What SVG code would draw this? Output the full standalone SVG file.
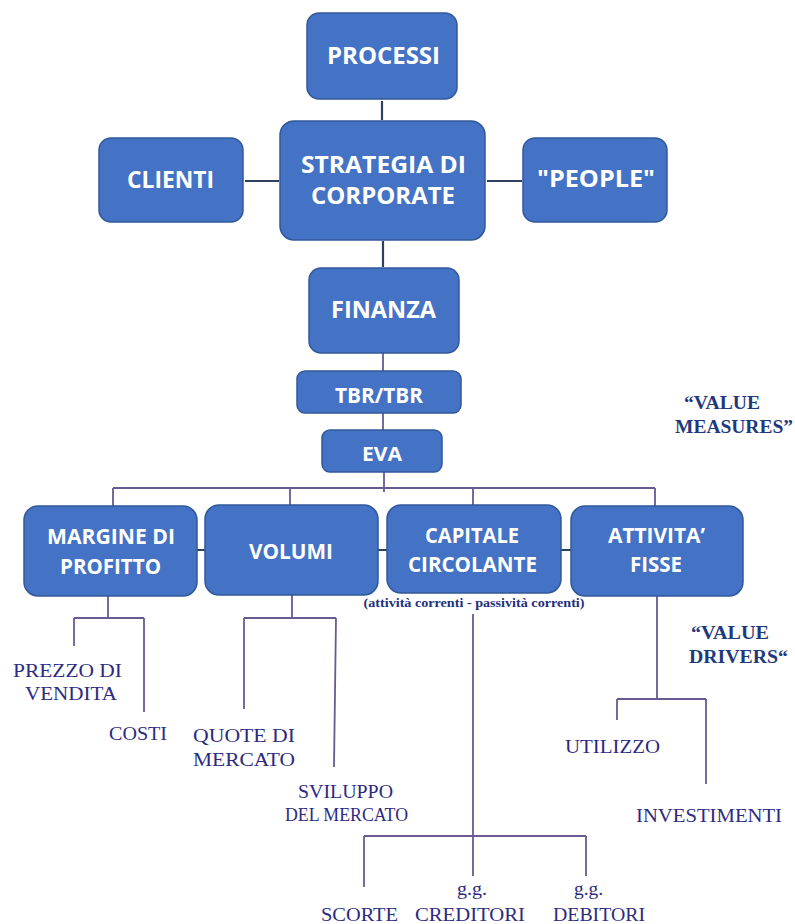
<svg xmlns="http://www.w3.org/2000/svg" width="795" height="924" viewBox="0 0 795 924">
<style>
.box{fill:#4472C4;stroke:#30589A;stroke-width:1.5}
.bt{font-family:"Open Sans","Noto Sans",sans-serif;font-weight:700;fill:#FFFFFF;text-anchor:middle}
.dk{stroke:#2F3F5E;stroke-width:2.2;fill:none}
.pl{stroke:#6A5A92;stroke-width:1.8;fill:none}
.st{font-family:"Liberation Serif","Times New Roman",serif;fill:#2C2A82;text-anchor:middle;font-size:19px}
.vm{font-family:"Liberation Serif","Times New Roman",serif;font-weight:700;fill:#1F3A7C;text-anchor:middle;font-size:19px}
.sub{font-family:"Liberation Serif","Times New Roman",serif;font-weight:700;fill:#23307A;text-anchor:middle;font-size:12px}
</style>
<rect width="795" height="924" fill="#FFFFFF"/>
<g id="connectors">
<path class="dk" d="M382 101V120M383 241V267M245 181H279M487 181H522"/>
<path class="dk" d="M197 550H205M378 550H387M561 550H571" stroke-width="1.8"/>
<path class="pl" d="M383 353V371M383 413V430M384 472V492"/>
<path class="pl" d="M113 488H655M113 488V506M290 488V505M473 488V505M655 488V506"/>
<path class="pl" d="M108 596V618M74 618H144M74 618V646M144 618V712"/>
<path class="pl" d="M292 595V618M244 618H336M244 618V709M336 618L334 767"/>
<path class="pl" d="M473 614V836M364 836H586M364 836V887M473 836V876M586 836V876"/>
<path class="pl" d="M657 596V699M617 699H706M617 699V720M706 699V784"/>
</g>
<g id="processi"><rect class="box" x="307" y="13" width="150" height="86" rx="12"/><text class="bt" x="383.5" y="64" font-size="24" textLength="113" lengthAdjust="spacingAndGlyphs">PROCESSI</text></g>
<g id="strategia"><rect class="box" x="280" y="121" width="205" height="119" rx="14"/><text class="bt" x="383.5" y="173" font-size="24" textLength="165" lengthAdjust="spacingAndGlyphs">STRATEGIA DI</text><text class="bt" x="383" y="204" font-size="24" textLength="144" lengthAdjust="spacingAndGlyphs">CORPORATE</text></g>
<g id="clienti"><rect class="box" x="99" y="138" width="144" height="84" rx="12"/><text class="bt" x="170.5" y="188" font-size="24" textLength="87" lengthAdjust="spacingAndGlyphs">CLIENTI</text></g>
<g id="people"><rect class="box" x="523" y="138" width="144" height="84" rx="12"/><text class="bt" x="596" y="187" font-size="24" textLength="118" lengthAdjust="spacingAndGlyphs">"PEOPLE"</text></g>
<g id="finanza"><rect class="box" x="309" y="268" width="150" height="85" rx="12"/><text class="bt" x="383.5" y="318" font-size="24" textLength="105" lengthAdjust="spacingAndGlyphs">FINANZA</text></g>
<g id="tbr"><rect class="box" x="297" y="371" width="164" height="42" rx="8"/><text class="bt" x="379" y="403" font-size="22" textLength="88" lengthAdjust="spacingAndGlyphs">TBR/TBR</text></g>
<g id="eva"><rect class="box" x="322" y="430" width="120" height="42" rx="8"/><text class="bt" x="382" y="461" font-size="20" textLength="40" lengthAdjust="spacingAndGlyphs">EVA</text></g>
<g id="margine"><rect class="box" x="24" y="506" width="173" height="90" rx="14"/><text class="bt" x="111" y="544" font-size="22" textLength="128" lengthAdjust="spacingAndGlyphs">MARGINE DI</text><text class="bt" x="110.5" y="574" font-size="22" textLength="101" lengthAdjust="spacingAndGlyphs">PROFITTO</text></g>
<g id="volumi"><rect class="box" x="205" y="505" width="173" height="90" rx="14"/><text class="bt" x="291" y="559" font-size="22" textLength="84" lengthAdjust="spacingAndGlyphs">VOLUMI</text></g>
<g id="capitale"><rect class="box" x="387" y="505" width="174" height="88" rx="14"/><text class="bt" x="472" y="543" font-size="22" textLength="94" lengthAdjust="spacingAndGlyphs">CAPITALE</text><text class="bt" x="472.5" y="572" font-size="22" textLength="129" lengthAdjust="spacingAndGlyphs">CIRCOLANTE</text></g>
<g id="attivita"><rect class="box" x="571" y="506" width="172" height="90" rx="14"/><text class="bt" x="656.5" y="543" font-size="22" textLength="97" lengthAdjust="spacingAndGlyphs">ATTIVITA’</text><text class="bt" x="656" y="572" font-size="22" textLength="52" lengthAdjust="spacingAndGlyphs">FISSE</text></g>
<g id="sub-capitale"><text class="sub" x="474" y="607" textLength="221" lengthAdjust="spacingAndGlyphs">(attività correnti - passività correnti)</text></g>
<g id="value-measures"><text class="vm" x="722" y="409" textLength="76" lengthAdjust="spacingAndGlyphs">“VALUE</text><text class="vm" x="734" y="433" textLength="118" lengthAdjust="spacingAndGlyphs">MEASURES”</text></g>
<g id="value-drivers"><text class="vm" x="730" y="639" textLength="78" lengthAdjust="spacingAndGlyphs">“VALUE</text><text class="vm" x="738.5" y="663" textLength="99" lengthAdjust="spacingAndGlyphs">DRIVERS“</text></g>
<g id="prezzo"><text class="st" x="67.5" y="677" textLength="109" lengthAdjust="spacingAndGlyphs">PREZZO DI</text><text class="st" x="71" y="700" textLength="92" lengthAdjust="spacingAndGlyphs">VENDITA</text></g>
<g id="costi"><text class="st" x="138" y="740" textLength="58" lengthAdjust="spacingAndGlyphs">COSTI</text></g>
<g id="quote"><text class="st" x="244" y="742" textLength="102" lengthAdjust="spacingAndGlyphs">QUOTE DI</text><text class="st" x="244" y="766" textLength="102" lengthAdjust="spacingAndGlyphs">MERCATO</text></g>
<g id="sviluppo"><text class="st" x="345.5" y="798" textLength="95" lengthAdjust="spacingAndGlyphs">SVILUPPO</text><text class="st" x="346.5" y="821" textLength="123" lengthAdjust="spacingAndGlyphs">DEL MERCATO</text></g>
<g id="utilizzo"><text class="st" x="612.5" y="753" textLength="95" lengthAdjust="spacingAndGlyphs">UTILIZZO</text></g>
<g id="investimenti"><text class="st" x="709" y="822" textLength="146" lengthAdjust="spacingAndGlyphs">INVESTIMENTI</text></g>
<g id="scorte"><text class="st" x="359.5" y="921" textLength="77" lengthAdjust="spacingAndGlyphs">SCORTE</text></g>
<g id="creditori"><text class="st" x="472" y="895" textLength="30" lengthAdjust="spacingAndGlyphs">g.g.</text><text class="st" x="470" y="921" textLength="110" lengthAdjust="spacingAndGlyphs">CREDITORI</text></g>
<g id="debitori"><text class="st" x="588.5" y="895" textLength="29" lengthAdjust="spacingAndGlyphs">g.g.</text><text class="st" x="599" y="921" textLength="92" lengthAdjust="spacingAndGlyphs">DEBITORI</text></g>
</svg>
